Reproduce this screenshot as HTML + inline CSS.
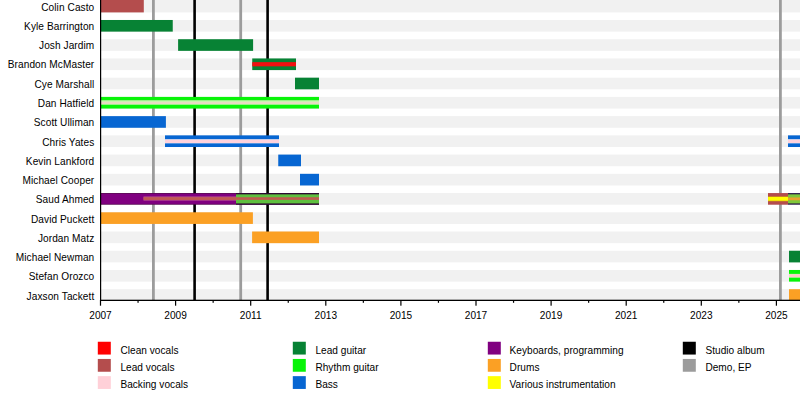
<!DOCTYPE html>
<html><head><meta charset="utf-8"><style>
html,body{margin:0;padding:0;background:#fff;width:800px;height:400px;overflow:hidden}
text{font-family:"Liberation Sans", sans-serif}
</style></head><body>
<svg width="800" height="400" viewBox="0 0 800 400" style="display:block">
<rect width="800" height="400" fill="#fff"/>
<rect x="100.5" y="0.00" width="700" height="12.40" fill="#f1f1f1"/>
<rect x="100.5" y="19.98" width="700" height="11.65" fill="#f1f1f1"/>
<rect x="100.5" y="39.21" width="700" height="11.65" fill="#f1f1f1"/>
<rect x="100.5" y="58.44" width="700" height="11.65" fill="#f1f1f1"/>
<rect x="100.5" y="77.67" width="700" height="11.65" fill="#f1f1f1"/>
<rect x="100.5" y="96.90" width="700" height="11.65" fill="#f1f1f1"/>
<rect x="100.5" y="116.13" width="700" height="11.65" fill="#f1f1f1"/>
<rect x="100.5" y="135.36" width="700" height="11.65" fill="#f1f1f1"/>
<rect x="100.5" y="154.59" width="700" height="11.65" fill="#f1f1f1"/>
<rect x="100.5" y="173.82" width="700" height="11.65" fill="#f1f1f1"/>
<rect x="100.5" y="193.05" width="700" height="11.65" fill="#f1f1f1"/>
<rect x="100.5" y="212.28" width="700" height="11.65" fill="#f1f1f1"/>
<rect x="100.5" y="231.51" width="700" height="11.65" fill="#f1f1f1"/>
<rect x="100.5" y="250.74" width="700" height="11.65" fill="#f1f1f1"/>
<rect x="100.5" y="269.97" width="700" height="11.65" fill="#f1f1f1"/>
<rect x="100.5" y="289.20" width="700" height="11.65" fill="#f1f1f1"/>
<rect x="152.00" y="0" width="2.8" height="300" fill="#9c9c9c"/>
<rect x="193.30" y="0" width="2.6" height="300" fill="#000000"/>
<rect x="239.30" y="0" width="2.8" height="300" fill="#9c9c9c"/>
<rect x="266.30" y="0" width="2.6" height="300" fill="#000000"/>
<rect x="779.00" y="0" width="2.8" height="300" fill="#9c9c9c"/>
<rect x="100.50" y="0.00" width="43.30" height="12.40" fill="#b44d4d"/>
<rect x="100.50" y="19.98" width="72.25" height="11.65" fill="#078234"/>
<rect x="178.10" y="39.21" width="75.00" height="11.65" fill="#078234"/>
<rect x="252.25" y="58.44" width="43.75" height="11.65" fill="#078234"/>
<rect x="252.25" y="62.14" width="43.75" height="4.20" fill="#f21010"/>
<rect x="295.00" y="77.67" width="24.00" height="11.65" fill="#078234"/>
<rect x="100.50" y="96.90" width="218.50" height="11.65" fill="#08f408"/>
<rect x="100.50" y="100.00" width="218.50" height="5.00" fill="#90f080"/>
<rect x="100.50" y="100.80" width="218.50" height="3.40" fill="#c8f4b0"/>
<rect x="100.50" y="101.90" width="218.50" height="2.10" fill="#e8dcc2"/>
<rect x="100.50" y="116.13" width="65.40" height="11.65" fill="#0766d2"/>
<rect x="165.00" y="135.36" width="114.00" height="11.65" fill="#0766d2"/>
<rect x="165.00" y="139.26" width="114.00" height="4.10" fill="#e8eefa"/>
<rect x="165.00" y="139.66" width="114.00" height="3.30" fill="#ffd2dc"/>
<rect x="788.00" y="135.36" width="12.00" height="11.65" fill="#0766d2"/>
<rect x="788.00" y="139.26" width="12.00" height="4.10" fill="#e8eefa"/>
<rect x="788.00" y="139.66" width="12.00" height="3.30" fill="#ffd2dc"/>
<rect x="278.25" y="154.59" width="22.75" height="11.65" fill="#0766d2"/>
<rect x="300.00" y="173.82" width="19.00" height="11.65" fill="#0766d2"/>
<rect x="100.50" y="193.05" width="218.50" height="11.65" fill="#55004f"/>
<rect x="100.50" y="193.85" width="218.50" height="10.05" fill="#800080"/>
<rect x="236.00" y="193.05" width="83.00" height="11.65" fill="#2a0a30"/>
<rect x="236.00" y="194.35" width="83.00" height="9.05" fill="#5fbf3f"/>
<rect x="143.50" y="196.45" width="92.50" height="4.20" fill="#b8508c"/>
<rect x="143.50" y="197.25" width="175.50" height="2.60" fill="#c05a50"/>
<rect x="768.00" y="193.05" width="20.00" height="11.65" fill="#b44d4d"/>
<rect x="768.00" y="196.25" width="20.00" height="5.20" fill="#c88a20"/>
<rect x="768.00" y="196.95" width="20.00" height="3.80" fill="#ffff00"/>
<rect x="788.00" y="193.05" width="12.00" height="11.65" fill="#2a1a48"/>
<rect x="788.00" y="194.35" width="12.00" height="9.05" fill="#7fc83a"/>
<rect x="788.00" y="197.45" width="12.00" height="2.80" fill="#eaa030"/>
<rect x="100.50" y="212.28" width="152.40" height="11.65" fill="#fba024"/>
<rect x="252.10" y="231.51" width="66.90" height="11.65" fill="#fba024"/>
<rect x="789.00" y="250.74" width="11.00" height="11.65" fill="#078234"/>
<rect x="789.00" y="269.97" width="11.00" height="11.65" fill="#08f408"/>
<rect x="789.00" y="273.87" width="11.00" height="3.80" fill="#c0f8b0"/>
<rect x="789.00" y="274.37" width="11.00" height="2.80" fill="#ffc8c8"/>
<rect x="789.00" y="289.20" width="11.00" height="11.65" fill="#fba024"/>
<rect x="100" y="0" width="1.2" height="300.6" fill="#000"/>
<rect x="100" y="299.7" width="700" height="1.3" fill="#000"/>
<rect x="99.90" y="300" width="1.2" height="5.7" fill="#000"/>
<text x="100.50" y="318.9" font-size="10.1" text-anchor="middle" fill="#000">2007</text>
<rect x="137.45" y="300" width="1.2" height="2.8" fill="#000"/>
<rect x="175.00" y="300" width="1.2" height="5.7" fill="#000"/>
<text x="175.60" y="318.9" font-size="10.1" text-anchor="middle" fill="#000">2009</text>
<rect x="212.55" y="300" width="1.2" height="2.8" fill="#000"/>
<rect x="250.10" y="300" width="1.2" height="5.7" fill="#000"/>
<text x="250.70" y="318.9" font-size="10.1" text-anchor="middle" fill="#000">2011</text>
<rect x="287.65" y="300" width="1.2" height="2.8" fill="#000"/>
<rect x="325.20" y="300" width="1.2" height="5.7" fill="#000"/>
<text x="325.80" y="318.9" font-size="10.1" text-anchor="middle" fill="#000">2013</text>
<rect x="362.75" y="300" width="1.2" height="2.8" fill="#000"/>
<rect x="400.30" y="300" width="1.2" height="5.7" fill="#000"/>
<text x="400.90" y="318.9" font-size="10.1" text-anchor="middle" fill="#000">2015</text>
<rect x="437.85" y="300" width="1.2" height="2.8" fill="#000"/>
<rect x="475.40" y="300" width="1.2" height="5.7" fill="#000"/>
<text x="476.00" y="318.9" font-size="10.1" text-anchor="middle" fill="#000">2017</text>
<rect x="512.95" y="300" width="1.2" height="2.8" fill="#000"/>
<rect x="550.50" y="300" width="1.2" height="5.7" fill="#000"/>
<text x="551.10" y="318.9" font-size="10.1" text-anchor="middle" fill="#000">2019</text>
<rect x="588.05" y="300" width="1.2" height="2.8" fill="#000"/>
<rect x="625.60" y="300" width="1.2" height="5.7" fill="#000"/>
<text x="626.20" y="318.9" font-size="10.1" text-anchor="middle" fill="#000">2021</text>
<rect x="663.15" y="300" width="1.2" height="2.8" fill="#000"/>
<rect x="700.70" y="300" width="1.2" height="5.7" fill="#000"/>
<text x="701.30" y="318.9" font-size="10.1" text-anchor="middle" fill="#000">2023</text>
<rect x="738.25" y="300" width="1.2" height="2.8" fill="#000"/>
<rect x="775.80" y="300" width="1.2" height="5.7" fill="#000"/>
<text x="776.40" y="318.9" font-size="10.1" text-anchor="middle" fill="#000">2025</text>
<text x="94.3" y="11.00" font-size="10.1" letter-spacing="0.08" text-anchor="end" fill="#000">Colin Casto</text>
<text x="94.3" y="30.23" font-size="10.1" letter-spacing="0.08" text-anchor="end" fill="#000">Kyle Barrington</text>
<text x="94.3" y="49.46" font-size="10.1" letter-spacing="0.08" text-anchor="end" fill="#000">Josh Jardim</text>
<text x="94.3" y="67.99" font-size="10.1" letter-spacing="0.08" text-anchor="end" fill="#000">Brandon McMaster</text>
<text x="94.3" y="87.92" font-size="10.1" letter-spacing="0.08" text-anchor="end" fill="#000">Cye Marshall</text>
<text x="94.3" y="107.15" font-size="10.1" letter-spacing="0.08" text-anchor="end" fill="#000">Dan Hatfield</text>
<text x="94.3" y="126.38" font-size="10.1" letter-spacing="0.08" text-anchor="end" fill="#000">Scott Ulliman</text>
<text x="94.3" y="145.61" font-size="10.1" letter-spacing="0.08" text-anchor="end" fill="#000">Chris Yates</text>
<text x="94.3" y="164.84" font-size="10.1" letter-spacing="0.08" text-anchor="end" fill="#000">Kevin Lankford</text>
<text x="94.3" y="184.07" font-size="10.1" letter-spacing="0.08" text-anchor="end" fill="#000">Michael Cooper</text>
<text x="94.3" y="203.30" font-size="10.1" letter-spacing="0.08" text-anchor="end" fill="#000">Saud Ahmed</text>
<text x="94.3" y="222.53" font-size="10.1" letter-spacing="0.08" text-anchor="end" fill="#000">David Puckett</text>
<text x="94.3" y="241.76" font-size="10.1" letter-spacing="0.08" text-anchor="end" fill="#000">Jordan Matz</text>
<text x="94.3" y="260.99" font-size="10.1" letter-spacing="0.08" text-anchor="end" fill="#000">Michael Newman</text>
<text x="94.3" y="280.22" font-size="10.1" letter-spacing="0.08" text-anchor="end" fill="#000">Stefan Orozco</text>
<text x="94.3" y="300.35" font-size="10.1" letter-spacing="0.08" text-anchor="end" fill="#000">Jaxson Tackett</text>
<rect x="97.80" y="341.75" width="13" height="12.8" fill="#ff0000"/>
<text x="120.40" y="353.75" font-size="10.1" letter-spacing="0.03" fill="#000">Clean vocals</text>
<rect x="97.80" y="358.95" width="13" height="12.8" fill="#b44d4d"/>
<text x="120.40" y="370.75" font-size="10.1" letter-spacing="0.03" fill="#000">Lead vocals</text>
<rect x="97.80" y="376.15" width="13" height="12.8" fill="#ffd0d8"/>
<text x="120.40" y="387.75" font-size="10.1" letter-spacing="0.03" fill="#000">Backing vocals</text>
<rect x="292.80" y="341.75" width="13" height="12.8" fill="#078234"/>
<text x="315.40" y="353.75" font-size="10.1" letter-spacing="0.03" fill="#000">Lead guitar</text>
<rect x="292.80" y="358.95" width="13" height="12.8" fill="#08f408"/>
<text x="315.40" y="370.75" font-size="10.1" letter-spacing="0.03" fill="#000">Rhythm guitar</text>
<rect x="292.80" y="376.15" width="13" height="12.8" fill="#0766d2"/>
<text x="315.40" y="387.75" font-size="10.1" letter-spacing="0.03" fill="#000">Bass</text>
<rect x="487.80" y="341.75" width="13" height="12.8" fill="#800080"/>
<text x="509.60" y="353.75" font-size="10.1" letter-spacing="0.03" fill="#000">Keyboards, programming</text>
<rect x="487.80" y="358.95" width="13" height="12.8" fill="#fba024"/>
<text x="509.60" y="370.75" font-size="10.1" letter-spacing="0.03" fill="#000">Drums</text>
<rect x="487.80" y="376.15" width="13" height="12.8" fill="#ffff00"/>
<text x="509.60" y="387.75" font-size="10.1" letter-spacing="0.03" fill="#000">Various instrumentation</text>
<rect x="682.80" y="341.75" width="13" height="12.8" fill="#000000"/>
<text x="705.40" y="353.75" font-size="10.1" letter-spacing="0.03" fill="#000">Studio album</text>
<rect x="682.80" y="358.95" width="13" height="12.8" fill="#9c9c9c"/>
<text x="705.40" y="370.75" font-size="10.1" letter-spacing="0.03" fill="#000">Demo, EP</text>
</svg>
</body></html>
